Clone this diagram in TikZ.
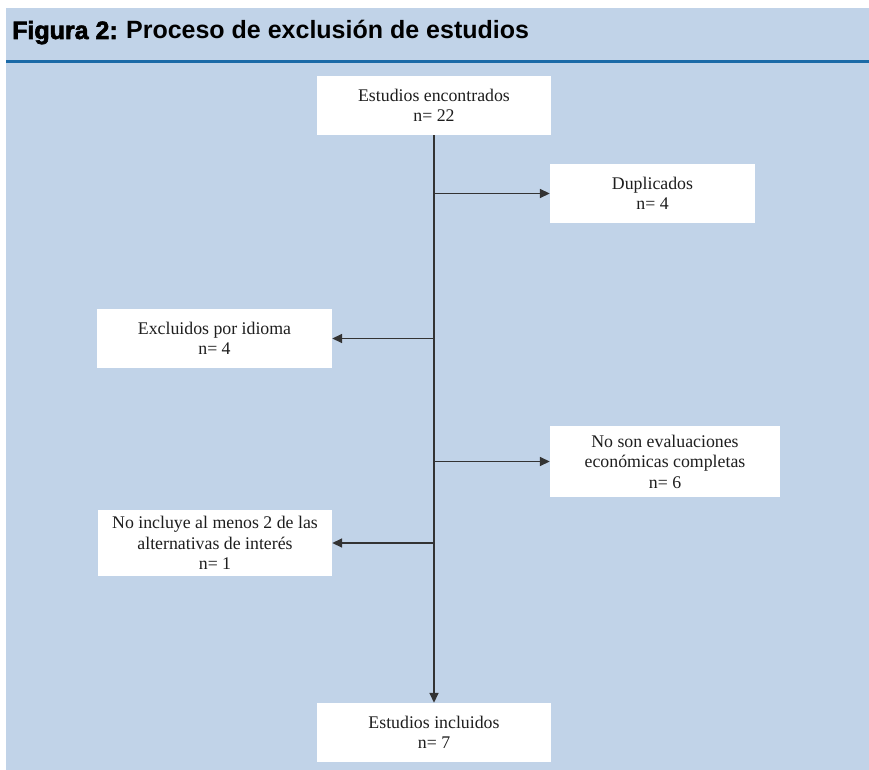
\documentclass[tikz,border=0pt]{standalone}
\usepackage{fontspec}
\setmainfont{Liberation Serif}
\newfontfamily\titlefont{Liberation Sans}
\newfontfamily\titlefontheavy[FakeBold=2.5]{Liberation Sans Bold}
\usetikzlibrary{arrows.meta}
\definecolor{bgblue}{HTML}{C1D3E8}
\definecolor{rulebl}{HTML}{1B6AA7}
\definecolor{inkgray}{HTML}{333333}
\definecolor{txt}{HTML}{1E1E1E}
\tikzset{
  boxnode/.style={fill=white, draw=none, inner sep=0pt, align=center,
    font=\fontsize{17.8}{20.5}\selectfont, text=txt},
  conn/.style={draw=inkgray, line width=1.6pt,
    -{Triangle[length=10pt,width=9pt]}},
}
\begin{document}
\begin{tikzpicture}[x=1pt,y=-1pt]
\useasboundingbox (0,0) rectangle (869,770);
\fill[white] (0,0) rectangle (869,770);
\fill[bgblue] (6,8) rectangle (869,770);
\fill[rulebl] (6,60) rectangle (869,63.5);
\node[anchor=base west, inner sep=0pt, text=black, font=\fontsize{25}{28}\selectfont] (title) at (12,39)
  {{\titlefontheavy Figura 2:} {\titlefont\bfseries Proceso de exclusión de estudios}};

\node[boxnode, minimum width=234pt, minimum height=59pt] (top) at (434,105.5)
  {Estudios encontrados\\n= 22};
\node[boxnode, minimum width=205pt, minimum height=59pt] (dup) at (652.5,193.5)
  {Duplicados\\n= 4};
\node[boxnode, minimum width=235pt, minimum height=59pt] (idioma) at (214.5,338.5)
  {Excluidos por idioma\\n= 4};
\node[boxnode, minimum width=230pt, minimum height=71pt] (noson) at (665,461.5)
  {No son evaluaciones\\económicas completas\\n= 6};
\node[boxnode, minimum width=234pt, minimum height=66pt] (noincl) at (215,543)
  {No incluye al menos 2 de las\\alternativas de interés\\n= 1};
\node[boxnode, minimum width=234pt, minimum height=59pt] (incl) at (434,732.5)
  {Estudios incluidos\\n= 7};

\draw[conn] (top.south) -- (incl.north);
\draw[conn] (top.south |- dup.west) -- (dup.west);
\draw[conn] (top.south |- idioma.east) -- (idioma.east);
\draw[conn] (top.south |- noson.west) -- (noson.west);
\draw[conn] (top.south |- noincl.east) -- (noincl.east);
\end{tikzpicture}
\end{document}
